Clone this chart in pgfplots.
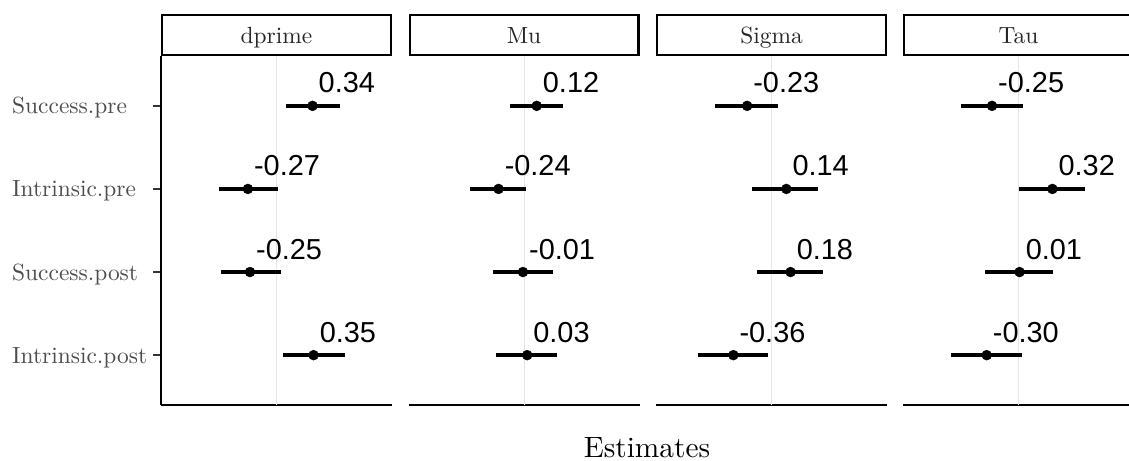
\documentclass[border=0pt]{standalone}
\usepackage{pgfplots}
\pgfplotsset{compat=1.18}
\usepackage{pgfplotstable}
\usepackage{fontspec}
\setmainfont{lmroman10-regular}[Extension=.otf]
\newfontfamily\labfont{Liberation Sans}

% Estimates with interval bounds; rows: 1 Success.pre, 2 Intrinsic.pre, 3 Success.post, 4 Intrinsic.post
\pgfplotstableread{
y x lo hi
1 0.34 0.085 0.600
2 -0.27 -0.540 0.010
3 -0.25 -0.525 0.044
4 0.35 0.063 0.651
}\tdprime
\pgfplotstableread{
y x lo hi
1 0.12 -0.132 0.371
2 -0.24 -0.509 0.019
3 -0.01 -0.290 0.270
4 0.03 -0.260 0.315
}\tmu
\pgfplotstableread{
y x lo hi
1 -0.23 -0.530 0.060
2 0.14 -0.180 0.440
3 0.18 -0.140 0.490
4 -0.36 -0.695 -0.035
}\tsigma
\pgfplotstableread{
y x lo hi
1 -0.25 -0.540 0.047
2 0.32 0.003 0.630
3 0.01 -0.320 0.330
4 -0.30 -0.635 0.030
}\ttau

\pgfplotsset{
  panel/.style={
    scale only axis, width=231bp, height=349bp,
    anchor=south west,
    xmin=-1.09, xmax=1.09, ymin=0.4, ymax=4.6, y dir=reverse,
    xtick=\empty, ytick={1,2,3,4},
    axis line style={line width=2.3bp, black},
    axis x line*=bottom,
    clip=false,
  },
  est/.style={
    black, only marks, mark=*, mark size=5bp,
    nodes near coords, point meta=explicit symbolic,
    nodes near coords style={anchor=base west, inner sep=0pt, xshift=6bp, yshift=13bp,
      font=\labfont\fontsize{29}{30}\selectfont, text=black},
    error bars/.cd, x dir=both, x explicit,
    error bar style={line width=4bp, black}, error mark=none,
  },
}

\newcommand{\strip}[1]{%
  \draw[line width=2.3bp, black] ([shift={(1.15bp,1.15bp)}]rel axis cs:0,1) rectangle ([shift={(-1.15bp,40.85bp)}]rel axis cs:1,1);
  \node[anchor=base, inner sep=0pt, text=black!85, font=\fontsize{23.5}{28}\selectfont] at ([yshift=12.5bp]rel axis cs:0.5,1) {#1};
}
\newcommand{\panelplot}[1]{%
  \addplot[color=black!10, line width=1bp] coordinates {(0,0.4) (0,4.6)};
  \addplot[est] table[x=x, y=y, meta=x,
    x error plus expr=\thisrow{hi}-\thisrow{x},
    x error minus expr=\thisrow{x}-\thisrow{lo}] {#1};
}

\begin{document}
\begin{tikzpicture}
\path[use as bounding box] (0,0) rectangle (1129bp,461bp);

\begin{axis}[panel, at={(161bp,56bp)},
  axis y line*=left,
  tick align=outside, major tick length=8bp,
  ytick style={line width=2bp, black!80},
  yticklabels={Success.pre, Intrinsic.pre, Success.post, Intrinsic.post},
  yticklabel style={anchor=base west, inner sep=0pt, xshift=-141bp, yshift=-8bp,
    text=black!70, font=\fontsize{23.5}{28}\selectfont}]
  \panelplot{\tdprime}
  \strip{dprime}
\end{axis}

\begin{axis}[panel, at={(408.5bp,56bp)}, axis y line=none, ytick=\empty]
  \panelplot{\tmu}
  \strip{Mu}
\end{axis}

\begin{axis}[panel, at={(656bp,56bp)}, axis y line=none, ytick=\empty]
  \panelplot{\tsigma}
  \strip{Sigma}
\end{axis}

\begin{axis}[panel, at={(903bp,56bp)}, axis y line=none, ytick=\empty]
  \panelplot{\ttau}
  \strip{Tau}
\end{axis}

\node[anchor=base, inner sep=0pt, font=\fontsize{29.5}{32}\selectfont] at (647bp,4bp) {Estimates};
\end{tikzpicture}
\end{document}
